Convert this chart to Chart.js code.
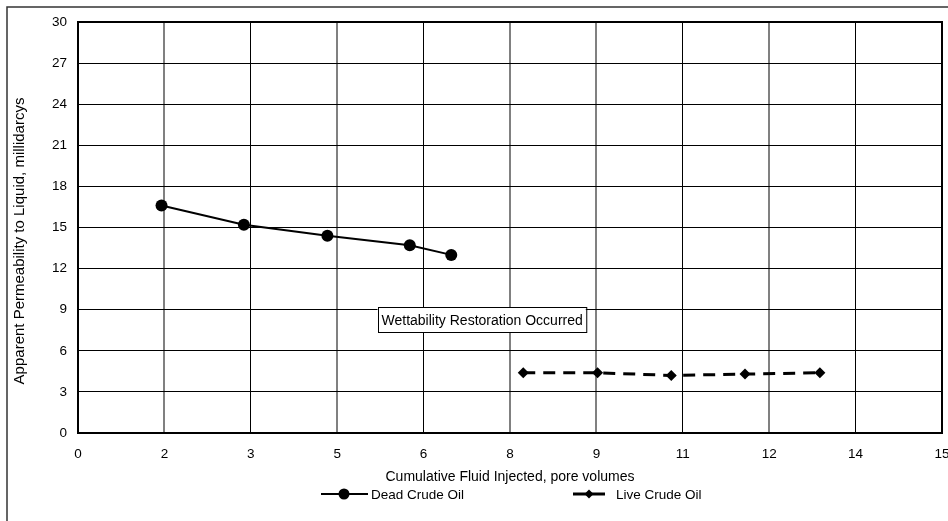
<!DOCTYPE html>
<html>
<head>
<meta charset="utf-8">
<script src="https://cdn.jsdelivr.net/npm/chart.js@4"></script>
<style>
  html, body { margin: 0; padding: 0; background: #fff; }
  #wrap { width: 948px; height: 521px; }
</style>
</head>
<body>
<div id="wrap"><canvas id="permChart" width="948" height="521"></canvas></div>
<script>
// ==============================
// DATA
// ==============================
const deadLabel = "Dead Crude Oil";
const deadX = [1.45, 2.88, 4.33, 5.76, 6.48];
const deadY = [16.6, 15.2, 14.4, 13.7, 13.0];

const liveLabel = "Live Crude Oil";
const liveX = [7.73, 9.02, 10.30, 11.58, 12.88];
const liveY = [4.4, 4.4, 4.2, 4.3, 4.4];

const xTitle = "Cumulative Fluid Injected, pore volumes";
const yTitle = "Apparent Permeability to Liquid, millidarcys";

// note box, anchored at its top-left corner in data units
const noteText = "Wettability Restoration Occurred";
const noteAt = { x: 5.2, y: 9.17 };

// ==============================
// STYLE
// ==============================
const FONT = "'Liberation Sans', Arial, sans-serif";
// vertical grid lines show up gray or black in the original
const grayCols = [1, 3, 5, 6, 8];

const toPoints = (xs, ys) => xs.map((x, i) => ({ x: x, y: ys[i] }));

// ==============================
// PLUGINS
// ==============================
const framePlugin = {
  id: "frame",
  beforeDatasetsDraw(chart) {
    const { ctx, chartArea: a } = chart;
    ctx.save();
    // outer chart frame
    ctx.strokeStyle = "#333";
    ctx.lineWidth = 1.5;
    ctx.beginPath();
    ctx.moveTo(7, 521);
    ctx.lineTo(7, 7);
    ctx.lineTo(948, 7);
    ctx.stroke();
    // plot area border
    ctx.strokeStyle = "#000";
    ctx.lineWidth = 2;
    ctx.strokeRect(a.left, a.top, a.right - a.left, a.bottom - a.top);
    // y axis title (sits a bit below the plot centre in the original)
    ctx.translate(20, 241);
    ctx.rotate(-Math.PI / 2);
    ctx.fillStyle = "#000";
    ctx.font = "15px " + FONT;
    ctx.textAlign = "center";
    ctx.textBaseline = "middle";
    ctx.fillText(yTitle, 0, 0);
    ctx.restore();
  }
};

const notePlugin = {
  id: "note",
  afterDatasetsDraw(chart) {
    const { ctx, scales } = chart;
    const px = scales.x.getPixelForValue(noteAt.x);
    const py = scales.y.getPixelForValue(noteAt.y);
    ctx.save();
    ctx.font = "14px " + FONT;
    const w = ctx.measureText(noteText).width + 7;
    const h = 25;
    ctx.fillStyle = "#fff";
    ctx.fillRect(px, py, w, h);
    ctx.strokeStyle = "#000";
    ctx.lineWidth = 1;
    ctx.strokeRect(Math.round(px) + 0.5, Math.round(py) + 0.5, w, h);
    ctx.fillStyle = "#000";
    ctx.textBaseline = "middle";
    ctx.fillText(noteText, px + 4, py + h / 2 + 1);
    ctx.restore();
  }
};

const legendPlugin = {
  id: "lineLegend",
  afterDraw(chart) {
    const { ctx } = chart;
    const y = 494;
    const items = [
      { ds: chart.data.datasets[0], x0: 321, x1: 368, mx: 344, r: 5.5, tx: 371 },
      { ds: chart.data.datasets[1], x0: 573, x1: 605, mx: 589, r: 4.5, tx: 616 }
    ];
    ctx.save();
    items.forEach(it => {
      const ds = it.ds;
      ctx.strokeStyle = ds.borderColor;
      ctx.lineWidth = ds.borderWidth;
      ctx.beginPath();
      ctx.moveTo(it.x0, y);
      ctx.lineTo(it.x1, y);
      ctx.stroke();
      ctx.fillStyle = ds.pointBackgroundColor;
      Chart.helpers.drawPoint(ctx, {
        pointStyle: ds.pointStyle,
        radius: it.r,
        borderWidth: 0
      }, it.mx, y);
      ctx.fillStyle = "#000";
      ctx.font = "13.5px " + FONT;
      ctx.textBaseline = "middle";
      ctx.fillText(ds.label, it.tx, y + 1);
    });
    ctx.restore();
  }
};

// ==============================
// CHART
// ==============================
const ctx = document.getElementById("permChart").getContext("2d");

new Chart(ctx, {
  type: "scatter",
  data: {
    datasets: [
      {
        label: deadLabel,
        data: toPoints(deadX, deadY),
        showLine: true,
        borderColor: "#000",
        borderWidth: 2,
        pointStyle: "circle",
        pointRadius: 6,
        pointBackgroundColor: "#000",
        pointBorderWidth: 0
      },
      {
        label: liveLabel,
        data: toPoints(liveX, liveY),
        showLine: true,
        borderColor: "#000",
        borderWidth: 3,
        borderDash: [12, 8],
        pointStyle: "rectRot",
        pointRadius: 5.5,
        pointBackgroundColor: "#000",
        pointBorderWidth: 0
      }
    ]
  },
  options: {
    responsive: false,
    animation: false,
    devicePixelRatio: 1,
    layout: { padding: { top: 22, right: 5, left: 0, bottom: 0 } },
    plugins: {
      legend: { display: false },
      tooltip: { enabled: false }
    },
    scales: {
      x: {
        type: "linear",
        min: 0,
        max: 15,
        afterFit: s => { s.height = 88; s.paddingRight = 5; s.paddingLeft = 0; },
        border: { display: false },
        grid: {
          drawTicks: false,
          lineWidth: c => grayCols.includes(c.index) ? 2 : 1,
          color: c => grayCols.includes(c.index) ? "#808080" : "#000"
        },
        ticks: {
          stepSize: 1.5,
          padding: 13,
          color: "#000",
          font: { family: FONT, size: 13.5 },
          callback: v => Math.round(v)
        },
        title: {
          display: true,
          text: xTitle,
          color: "#000",
          font: { family: FONT, size: 14 },
          padding: { top: 0, bottom: 35 }
        }
      },
      y: {
        min: 0,
        max: 30,
        afterFit: s => { s.width = 78; },
        border: { display: false },
        grid: { drawTicks: false, lineWidth: 1, color: "#000" },
        ticks: {
          stepSize: 3,
          padding: 11,
          color: "#000",
          font: { family: FONT, size: 13.5 }
        },
        title: { display: false }
      }
    }
  },
  plugins: [framePlugin, notePlugin, legendPlugin]
});
</script>
</body>
</html>
